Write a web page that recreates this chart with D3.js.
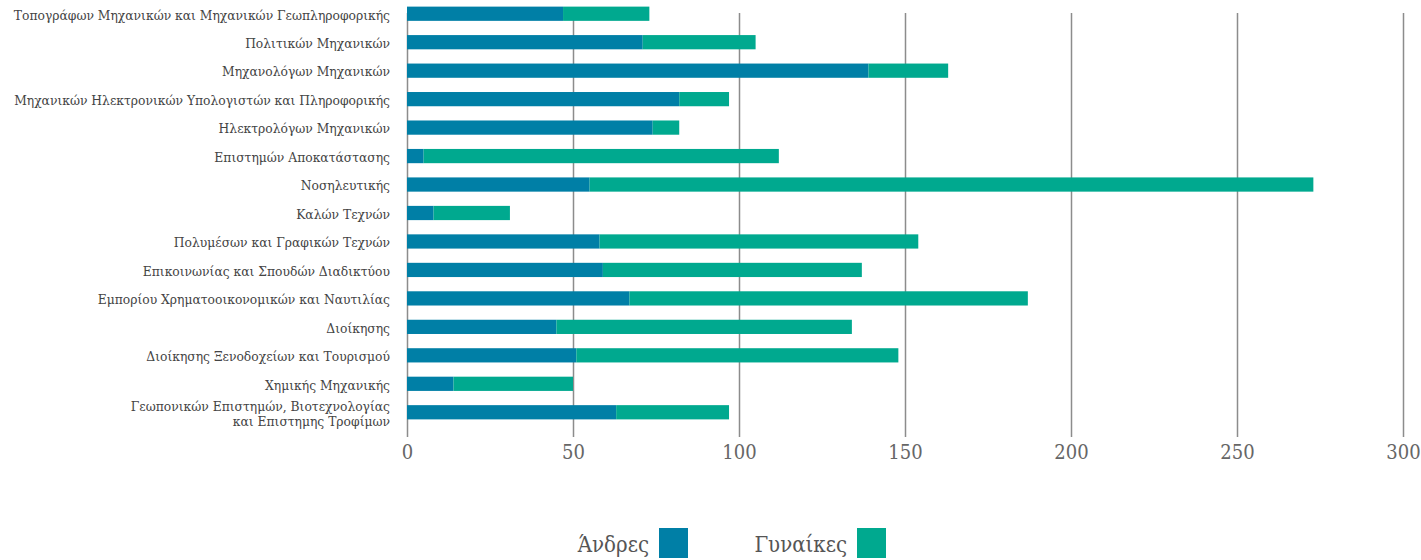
<!DOCTYPE html>
<html lang="el">
<head>
    <meta charset="UTF-8">
    <title>Σχολές ανά φύλο</title>
    <script src="https://d3js.org/d3.v7.min.js"></script>
    <style>
        body { margin: 0; background: #fff; }
        svg { display: block; }
        text { font-family: "DejaVu Serif", serif; font-stretch: condensed; }
        .cat { font-size: 13.7px; fill: #444; }
        .tick text { font-size: 20px; fill: #666; }
        .legend text { font-size: 22px; fill: #555; }
    </style>
</head>
<body>

<svg width="1421" height="560"></svg>

<script>

    // departments, top to bottom
    var categories = [
        "Τοπογράφων Μηχανικών και Μηχανικών Γεωπληροφορικής",
        "Πολιτικών Μηχανικών",
        "Μηχανολόγων Μηχανικών",
        "Μηχανικών Ηλεκτρονικών Υπολογιστών και Πληροφορικής",
        "Ηλεκτρολόγων Μηχανικών",
        "Επιστημών Αποκατάστασης",
        "Νοσηλευτικής",
        "Καλών Τεχνών",
        "Πολυμέσων και Γραφικών Τεχνών",
        "Επικοινωνίας και Σπουδών Διαδικτύου",
        "Εμπορίου Χρηματοοικονομικών και Ναυτιλίας",
        "Διοίκησης",
        "Διοίκησης Ξενοδοχείων και Τουρισμού",
        "Χημικής Μηχανικής",
        "Γεωπονικών Επιστημών, Βιοτεχνολογίας\nκαι Επιστημης Τροφίμων"
    ];

    var men   = [47, 71, 139, 82, 74, 5, 55, 8, 58, 59, 67, 45, 51, 14, 63];
    var women = [26, 34, 24, 15, 8, 107, 218, 23, 96, 78, 120, 89, 97, 36, 34];

    var xTicks = [0, 50, 100, 150, 200, 250, 300];

    var seriesNames = ["Άνδρες", "Γυναίκες"];
    var seriesColors = ["#007fa6", "#00a98f"];

    var svg = d3.select("svg");

    var x = d3.scaleLinear().domain([0, 300]).range([407, 1403]);
    var y = d3.scaleBand().domain(categories).range([-0.5, 426.5])
        .paddingInner(0.5).paddingOuter(0.25);

    // grid + ticks + labels in one axis
    var axis = svg.append("g")
        .attr("transform", "translate(0,437)")
        .call(d3.axisBottom(x).tickValues(xTicks).tickSize(-424).tickPadding(8));
    axis.attr("font-family", null);
    axis.select(".domain").remove();
    axis.selectAll(".tick line").attr("stroke", "#8c8c8c").attr("stroke-width", 1.5);

    // stacked bars
    var rows = categories.map(function (c, i) {
        return { cat: c, men: men[i], women: women[i] };
    });
    var stacked = d3.stack().keys(["men", "women"])(rows);

    svg.selectAll("g.series")
        .data(stacked)
        .enter()
        .append("g")
        .attr("class", "series")
        .attr("fill", function (d, i) { return seriesColors[i]; })
        .selectAll("rect")
        .data(function (d) { return d; })
        .enter()
        .append("rect")
        .attr("x", function (d) { return x(d[0]); })
        .attr("width", function (d) { return x(d[1]) - x(d[0]); })
        .attr("y", function (d) { return y(d.data.cat); })
        .attr("height", y.bandwidth());

    // category labels
    var labels = svg.append("g").selectAll("text")
        .data(categories)
        .enter()
        .append("text")
        .attr("class", "cat")
        .attr("text-anchor", "end")
        .attr("x", 390)
        .attr("y", function (d) { return y(d) + y.bandwidth() / 2 + 1; });

    labels.each(function (d) {
        var lines = d.split("\n");
        var t = d3.select(this);
        lines.forEach(function (line, i) {
            t.append("tspan")
                .attr("x", 390)
                .attr("dy", i === 0 ? (0.35 - (lines.length - 1) * 0.5) + "em" : "1.05em")
                .text(line);
        });
    });

    // legend
    var legend = svg.append("g").attr("class", "legend");
    var legendX = [659, 857];
    seriesNames.forEach(function (name, i) {
        legend.append("text")
            .attr("x", legendX[i] - 10)
            .attr("y", 552)
            .attr("text-anchor", "end")
            .text(name);
        legend.append("rect")
            .attr("x", legendX[i])
            .attr("y", 528)
            .attr("width", 29)
            .attr("height", 30)
            .attr("fill", seriesColors[i]);
    });

</script>
</body>
</html>
